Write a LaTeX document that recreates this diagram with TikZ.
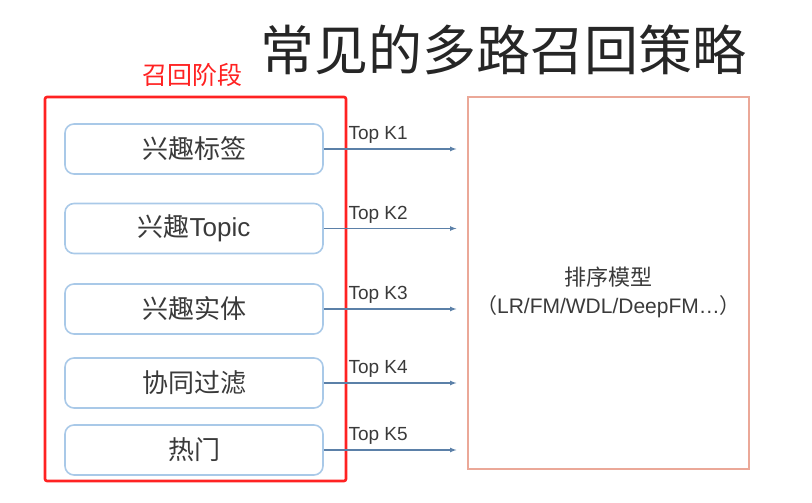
\documentclass[tikz,border=0pt]{standalone}
\usepackage{fontspec}
\setmainfont{Liberation Sans}
\newfontfamily\cjk{Noto Sans CJK SC}
\usepackage{tikz}
\usetikzlibrary{arrows,positioning}

\definecolor{stagered}{HTML}{FF2222}
\definecolor{boxblue}{HTML}{A9C9E8}
\definecolor{arrowblue}{HTML}{5B80A8}
\definecolor{modelred}{HTML}{EBA898}
\definecolor{txtgray}{HTML}{3A3A3A}

\begin{document}
\begin{tikzpicture}
		[
			x=1pt, y=1pt,
			align=center,
			recall/.style={draw=boxblue, line width=1.6pt, rounded corners=9pt,
				minimum width=258pt, minimum height=50pt, text=txtgray,
				font=\fontsize{26}{30}\selectfont},
			stage/.style={draw=stagered, line width=2.6pt, rounded corners=2pt,
				minimum width=301pt, minimum height=384pt},
			model/.style={draw=modelred, line width=1.2pt,
				minimum width=281pt, minimum height=372pt},
			label/.style={draw=none, fill=none, text=txtgray, inner sep=0pt,
				font=\fontsize{19}{22}\selectfont},
			arrow/.style={-latex, arrowblue, line width=1.2pt, shorten >=11pt}
		]

		\useasboundingbox (0,0) rectangle (812,503);

		% title
		\node[text=black!85, font=\cjk\fontsize{54}{60}\selectfont] (title) at (503,453) {常见的多路召回策略};

		% recall stage
		\node[stage] (stage) at (195.5,214) {};
		\node[text=stagered, font=\cjk\fontsize{25}{28}\selectfont] (stagelbl) at (192,428) {召回阶段};

		\node[recall] (b1) at (194,354.0) {{\cjk 兴趣标签}};
		\node[recall] (b2) at (194,274.5) {{\cjk 兴趣}Topic};
		\node[recall] (b3) at (194,194.0) {{\cjk 兴趣实体}};
		\node[recall] (b4) at (194,120.0) {{\cjk 协同过滤}};
		\node[recall] (b5) at (194, 53.0) {{\cjk 热门}};

		% ranking model
		\node[model] (rank) at (608.5,220) {};
		\node[text=txtgray, font=\fontsize{21}{28}\selectfont] (ranktxt) at ([yshift=-9pt]rank.center)
			{{\cjk\fontsize{22}{28}\selectfont 排序模型}\\{\cjk （}LR/FM/WDL/DeepFM\ldots{\cjk ）}};

		% top k paths
		\foreach \i in {1,...,5}
		{
			\draw[arrow] (b\i.east) -- (b\i.east -| rank.west);
			\node[label, anchor=base west] (k\i) at ([xshift=1pt,yshift=9pt]stage.east |- b\i.east) {Top K\i};
		}

	\end{tikzpicture}
\end{document}
